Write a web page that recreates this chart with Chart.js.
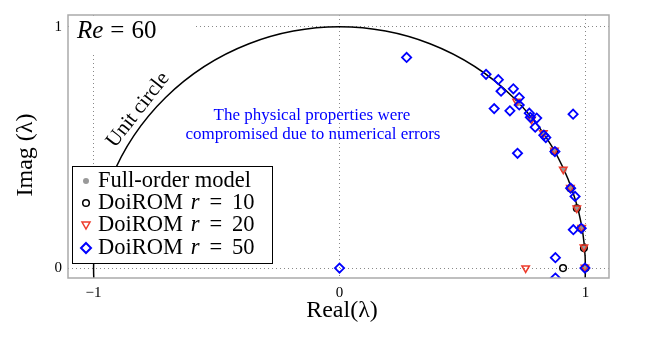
<!DOCTYPE html>
<html>
<head>
<meta charset="utf-8">
<script src="https://cdn.jsdelivr.net/npm/chart.js@4"></script>
<style>
  html, body { margin: 0; padding: 0; background: #fff; }
  #wrap { width: 654px; height: 340px; }
</style>
</head>
<body>
<div id="wrap"><canvas id="eig"></canvas></div>
<script>
const SERIF = '"Liberation Serif", "DejaVu Serif", serif';

// eigenvalues (real / imaginary parts)
const fullRe = [1.000, 0.996, 0.986, 0.966, 0.940, 0.912, 0.875, 0.831, 0.782, 0.727];
const fullIm = [0.000, 0.084, 0.166, 0.250, 0.332, 0.408, 0.484, 0.557, 0.621, 0.684];

const rom10Re = [1.000, 0.994, 0.983, 0.965, 0.939, 0.873, 0.909];
const rom10Im = [0.000, 0.083, 0.165, 0.248, 0.331, 0.484, 0.000];

const rom20Re = [0.998, 0.994, 0.985, 0.965, 0.939, 0.910, 0.874, 0.829, 0.781, 0.720, 0.757];
const rom20Im = [0.003, 0.087, 0.168, 0.248, 0.333, 0.409, 0.488, 0.560, 0.616, 0.691, 0.000];

const rom50Re = [0.000, 0.998, 0.878, 0.878, 0.951, 0.983, 0.958, 0.940, 0.876, 0.950, 0.724, 0.831, 0.839,
                 0.796, 0.802, 0.776, 0.772, 0.731, 0.731, 0.707, 0.657, 0.646, 0.596, 0.629, 0.693, 0.273];
const rom50Im = [0.000, 0.000, -0.041, 0.043, 0.159, 0.165, 0.297, 0.331, 0.483, 0.638, 0.476, 0.551, 0.541,
                 0.584, 0.622, 0.625, 0.642, 0.676, 0.707, 0.743, 0.733, 0.781, 0.803, 0.661, 0.652, 0.873];

const xTicks = [-1, 0, 1];
const yTicks = [0, 1];

const pts = (xs, ys) => xs.map((x, i) => ({ x: x, y: ys[i] }));

// text made of upright / italic pieces
function mathText(ctx, parts, x, y, size) {
  parts.forEach(p => {
    ctx.font = (p[1] ? 'italic ' : '') + size + 'px ' + SERIF;
    ctx.fillText(p[0], x, y);
    x += ctx.measureText(p[0]).width + (p[2] || 0);
  });
}

const decor = {
  id: 'decor',
  beforeDatasetsDraw(chart) {
    const { ctx, chartArea: a, scales: { x, y } } = chart;
    const cx = x.getPixelForValue(0), cy = y.getPixelForValue(0);
    const rx = x.getPixelForValue(1) - cx, ry = cy - y.getPixelForValue(1);
    ctx.save();
    ctx.beginPath();
    ctx.rect(a.left, a.top, a.right - a.left, a.bottom - a.top);
    ctx.clip();
    ctx.beginPath();
    ctx.ellipse(cx, cy, rx, ry, 0, 0, Math.PI * 2);
    ctx.strokeStyle = '#000';
    ctx.lineWidth = 1.5;
    ctx.stroke();
    ctx.restore();
  },
  afterDraw(chart) {
    const { ctx, chartArea: a } = chart;
    ctx.save();

    // Re label with white box
    ctx.fillStyle = '#fff';
    ctx.fillRect(a.left + 1, a.top + 1, 124, 37);
    ctx.fillStyle = '#000';
    ctx.textBaseline = 'middle';
    ctx.textAlign = 'left';
    mathText(ctx, [['Re', true, 7], ['=', false, 7], ['60', false]], 77, 31, 25);

    // unit circle label
    ctx.save();
    ctx.translate(138, 110);
    ctx.rotate(-52 * Math.PI / 180);
    ctx.font = '21px ' + SERIF;
    ctx.textAlign = 'center';
    ctx.fillText('Unit circle', 0, 0);
    ctx.restore();

    // note
    ctx.fillStyle = '#0000ff';
    ctx.font = '17px ' + SERIF;
    ctx.textAlign = 'center';
    ctx.fillText('The physical properties were', 312, 116);
    ctx.fillText('compromised due to numerical errors', 313, 135);

    // frame
    ctx.strokeStyle = '#aaaaaa';
    ctx.lineWidth = 1.5;
    ctx.strokeRect(a.left, a.top, a.right - a.left, a.bottom - a.top);

    // legend
    ctx.fillStyle = '#fff';
    ctx.fillRect(72, 166, 200, 97);
    ctx.strokeStyle = '#000';
    ctx.lineWidth = 1;
    ctx.strokeRect(72.5, 166.5, 200, 97);
    const rows = [181, 203, 225, 248];
    // markers
    ctx.beginPath(); ctx.arc(86, rows[0], 3, 0, Math.PI * 2); ctx.fillStyle = '#999'; ctx.fill();
    ctx.beginPath(); ctx.arc(86, rows[1], 3.3, 0, Math.PI * 2); ctx.strokeStyle = '#000'; ctx.lineWidth = 1.5; ctx.stroke();
    ctx.beginPath();
    ctx.moveTo(82, rows[2] - 3); ctx.lineTo(90, rows[2] - 3); ctx.lineTo(86, rows[2] + 4); ctx.closePath();
    ctx.strokeStyle = '#ee3b2b'; ctx.stroke();
    ctx.beginPath();
    ctx.moveTo(86, rows[3] - 5); ctx.lineTo(91, rows[3]); ctx.lineTo(86, rows[3] + 5); ctx.lineTo(81, rows[3]); ctx.closePath();
    ctx.strokeStyle = '#0000ff'; ctx.lineWidth = 2; ctx.stroke();
    ctx.fillStyle = '#000';
    ctx.textAlign = 'left';
    ctx.font = '22.5px ' + SERIF;
    ctx.fillText('Full-order model', 98, rows[0]);
    ['10', '20', '50'].forEach((r, i) => {
      mathText(ctx, [['DoiROM ', false, 2], ['r', true, 10], ['=', false, 10], [r, false]], 98, rows[i + 1], 22.5);
    });

    // axis titles
    ctx.textAlign = 'center';
    ctx.font = '24px ' + SERIF;
    ctx.fillText('Real(\u03bb)', 342, 311);
    ctx.save();
    ctx.translate(26, 155);
    ctx.rotate(-Math.PI / 2);
    ctx.fillText('Imag (\u03bb)', 0, 0);
    ctx.restore();

    ctx.restore();
  }
};

const gridOpts = { color: '#888', lineWidth: 1, drawTicks: false };
const borderOpts = { display: false, dash: [1, 3] };

new Chart(document.getElementById('eig'), {
  type: 'scatter',
  data: {
    datasets: [
      {
        label: 'DoiROM r = 50',
        data: pts(rom50Re, rom50Im),
        pointStyle: 'rectRot',
        pointRadius: 4.6,
        pointBorderWidth: 1.8,
        borderColor: '#0000ff',
        backgroundColor: 'rgba(0,0,0,0)',
        order: 1
      },
      {
        label: 'DoiROM r = 20',
        data: pts(rom20Re, rom20Im),
        pointStyle: 'triangle',
        rotation: 180,
        pointRadius: 4.3,
        pointBorderWidth: 1.5,
        borderColor: '#ee3b2b',
        backgroundColor: 'rgba(0,0,0,0)',
        order: 2
      },
      {
        label: 'DoiROM r = 10',
        data: pts(rom10Re, rom10Im),
        pointStyle: 'circle',
        pointRadius: 3.3,
        pointBorderWidth: 1.5,
        borderColor: '#000',
        backgroundColor: 'rgba(0,0,0,0)',
        order: 3
      },
      {
        label: 'Full-order model',
        data: pts(fullRe, fullIm),
        pointStyle: 'circle',
        pointRadius: 3,
        pointBorderWidth: 0,
        borderColor: '#999',
        backgroundColor: '#999',
        order: 4
      }
    ]
  },
  options: {
    responsive: true,
    maintainAspectRatio: false,
    animation: false,
    events: [],
    layout: { padding: { left: 0, right: 45, top: 10, bottom: 0 } },
    plugins: { legend: { display: false }, tooltip: { enabled: false } },
    scales: {
      x: {
        type: 'linear',
        min: -1.104,
        max: 1.096,
        afterBuildTicks: s => { s.ticks = xTicks.map(v => ({ value: v })); },
        afterFit: s => { s.height = 62; },
        grid: gridOpts,
        border: borderOpts,
        ticks: {
          padding: 6,
          color: '#000',
          font: { family: SERIF, size: 15 },
          callback: v => String(v).replace('-', '\u2212')
        }
      },
      y: {
        type: 'linear',
        min: -0.041,
        max: 1.049,
        afterBuildTicks: s => { s.ticks = yTicks.map(v => ({ value: v })); },
        afterFit: s => { s.width = 68; },
        grid: gridOpts,
        border: borderOpts,
        ticks: {
          padding: 6,
          color: '#000',
          font: { family: SERIF, size: 15 }
        }
      }
    }
  },
  plugins: [decor]
});
</script>
</body>
</html>
